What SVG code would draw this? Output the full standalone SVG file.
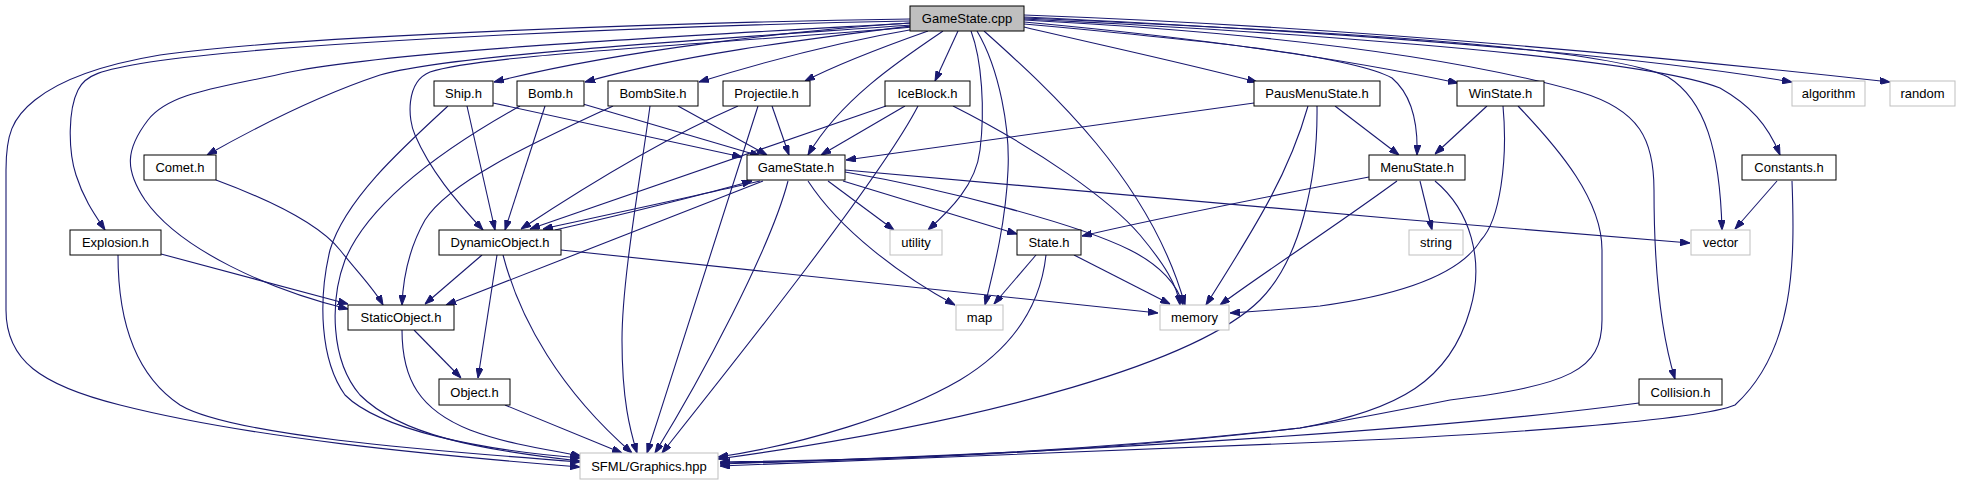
<svg xmlns="http://www.w3.org/2000/svg" width="1963" height="485" viewBox="0 0 1963 485">
<defs>
<marker id="a" viewBox="0 0 10 7" markerWidth="10" markerHeight="7" refX="10" refY="3.5" orient="auto" markerUnits="userSpaceOnUse"><path d="M0,0 L10,3.5 L0,7 z" fill="#191970" stroke="#191970" stroke-width="1"/></marker>
</defs>
<style>
.e{fill:none;stroke:#191970;stroke-width:1.1;marker-end:url(#a)}
.n rect{fill:#fff;stroke:#000;stroke-width:1}
.x rect{fill:#fff;stroke:#bfbfbf;stroke-width:1}
.r rect{fill:#bfbfbf;stroke:#000;stroke-width:1}
text{font-family:"Liberation Sans",Arial,sans-serif;font-size:13px;fill:#000;text-anchor:middle}
</style>
<rect width="1963" height="485" fill="#fff"/>
<g id="edges">
<path class="e" d="M910,19 C700,22 300,35 160,55 C100,65 60,80 35,100 C12,118 6,135 6,170 L6,310 C6,360 40,385 120,405 C250,438 430,455 580,467"/>
<path class="e" d="M910,21 C700,25 300,40 150,62 C100,70 85,75 78,90 C68,110 68,150 76,175 C84,200 95,215 105,230"/>
<path class="e" d="M912,23 C700,35 400,50 290,72 C220,88 170,92 148,120 C125,150 125,170 145,200 C180,250 270,290 348,309"/>
<path class="e" d="M912,25 C700,40 450,55 380,75 C320,95 260,125 207,155"/>
<path class="e" d="M913,27 C700,45 480,55 430,72 C405,82 408,120 415,135 C430,170 455,200 483,230"/>
<path class="e" d="M910,23 C800,30 620,50 494,82"/>
<path class="e" d="M911,26 C800,40 680,55 585,82"/>
<path class="e" d="M915,29 C850,40 770,60 699,82"/>
<path class="e" d="M928,31 C880,48 840,63 805,81"/>
<path class="e" d="M943,31 C900,60 840,100 808,155"/>
<path class="e" d="M958,31 L935,81"/>
<path class="e" d="M971,31 C982,60 985,110 980,150 C976,185 950,210 928,230"/>
<path class="e" d="M977,31 C1000,70 1010,130 1008,170 C1006,220 995,265 985,305"/>
<path class="e" d="M984,31 C1050,90 1150,180 1185,305"/>
<path class="e" d="M1024,27 C1100,45 1180,62 1257,82"/>
<path class="e" d="M1024,24 C1200,40 1350,55 1392,78 C1412,95 1418,125 1417,155"/>
<path class="e" d="M1024,22 C1200,38 1350,60 1458,83"/>
<path class="e" d="M1024,20 C1250,32 1450,55 1580,92 C1640,110 1654,140 1654,190 C1654,260 1660,330 1675,379"/>
<path class="e" d="M1024,18 C1300,30 1600,45 1668,77 C1705,100 1720,150 1722,230"/>
<path class="e" d="M1024,19 C1350,35 1650,60 1720,88 C1750,105 1768,125 1780,155"/>
<path class="e" d="M1024,17 C1300,30 1600,50 1792,82"/>
<path class="e" d="M1024,15 C1300,25 1600,50 1890,82"/>
<path class="e" d="M448,106 C400,150 345,200 330,250 C318,300 320,360 345,395 C380,430 480,450 580,458"/>
<path class="e" d="M467,106 L495,230"/>
<path class="e" d="M493,103 L742,157"/>
<path class="e" d="M520,106 C450,145 370,200 345,260 C330,300 330,360 360,395 C400,435 480,450 580,461"/>
<path class="e" d="M545,106 L505,230"/>
<path class="e" d="M583,104 L760,156"/>
<path class="e" d="M613,106 C540,140 450,180 425,220 C408,250 403,280 402,305"/>
<path class="e" d="M650,106 C640,180 622,280 622,340 C622,400 630,430 637,453"/>
<path class="e" d="M678,106 L767,155"/>
<path class="e" d="M738,106 C660,140 580,190 521,229"/>
<path class="e" d="M758,106 C735,180 690,320 647,453"/>
<path class="e" d="M772,106 L789,155"/>
<path class="e" d="M886,106 L530,229"/>
<path class="e" d="M905,106 L821,155"/>
<path class="e" d="M918,106 C880,180 720,380 662,453"/>
<path class="e" d="M953,106 C1040,150 1110,200 1140,235 C1165,265 1177,285 1180,305"/>
<path class="e" d="M760,181 C700,195 620,212 543,229"/>
<path class="e" d="M555,230 C620,215 690,198 752,181"/>
<path class="e" d="M763,181 L446,305"/>
<path class="e" d="M788,181 C770,250 700,380 655,453"/>
<path class="e" d="M828,181 L894,230"/>
<path class="e" d="M843,181 L1017,234"/>
<path class="e" d="M808,181 C840,230 900,275 955,305"/>
<path class="e" d="M845,172 C950,190 1080,225 1130,250 C1160,265 1178,285 1183,305"/>
<path class="e" d="M845,170 C1000,185 1400,220 1690,243"/>
<path class="e" d="M482,255 L425,304"/>
<path class="e" d="M497,255 L478,378"/>
<path class="e" d="M503,255 C520,320 560,390 632,453"/>
<path class="e" d="M561,250 L1158,313"/>
<path class="e" d="M414,330 L461,378"/>
<path class="e" d="M402,330 C402,380 420,410 470,430 C510,445 550,450 581,456"/>
<path class="e" d="M505,405 L622,453"/>
<path class="e" d="M161,254 L348,304"/>
<path class="e" d="M118,255 C118,320 135,375 180,405 C230,435 420,450 580,462"/>
<path class="e" d="M216,180 C270,200 320,225 340,250 C360,275 375,290 383,305"/>
<path class="e" d="M1036,255 L994,304"/>
<path class="e" d="M1074,255 L1170,304"/>
<path class="e" d="M1046,255 C1040,310 1010,350 960,380 C900,415 800,445 718,457"/>
<path class="e" d="M1369,177 C1250,200 1150,220 1082,236"/>
<path class="e" d="M1420,181 L1432,230"/>
<path class="e" d="M1397,181 C1330,230 1260,275 1220,305"/>
<path class="e" d="M1435,181 C1470,210 1485,260 1470,310 C1450,380 1400,410 1300,428 C1100,452 900,460 720,463"/>
<path class="e" d="M1254,103 L846,160"/>
<path class="e" d="M1335,106 L1399,155"/>
<path class="e" d="M1308,106 C1290,170 1260,220 1206,305"/>
<path class="e" d="M1317,106 C1318,180 1300,260 1260,300 C1200,360 1000,420 718,459"/>
<path class="e" d="M1487,106 L1435,154"/>
<path class="e" d="M1503,106 C1508,160 1500,220 1481,240 C1460,275 1400,295 1320,306 C1290,309 1260,311 1230,313"/>
<path class="e" d="M1518,106 C1560,150 1602,200 1602,250 L1602,320 C1602,370 1570,385 1450,400 C1400,410 1350,420 1300,428 C1100,450 900,460 720,462"/>
<path class="e" d="M1777,181 L1735,229"/>
<path class="e" d="M1792,181 C1795,260 1795,350 1735,405 C1700,420 1500,435 1300,443 C1100,452 900,460 720,466"/>
<path class="e" d="M1639,403 C1400,435 1000,455 720,464"/>
</g>
<g id="n-gamestate-cpp" class="r"><rect x="910" y="6" width="114" height="25"/><text x="967" y="23">GameState.cpp</text></g>
<g id="n-ship" class="n"><rect x="434" y="81" width="59" height="25"/><text x="463.5" y="98">Ship.h</text></g>
<g id="n-bomb" class="n"><rect x="517" y="81" width="67" height="25"/><text x="550.5" y="98">Bomb.h</text></g>
<g id="n-bombsite" class="n"><rect x="608" y="81" width="90" height="25"/><text x="653" y="98">BombSite.h</text></g>
<g id="n-projectile" class="n"><rect x="723" y="81" width="87" height="25"/><text x="766.5" y="98">Projectile.h</text></g>
<g id="n-iceblock" class="n"><rect x="885" y="81" width="85" height="25"/><text x="927.5" y="98">IceBlock.h</text></g>
<g id="n-pausmenustate" class="n"><rect x="1254" y="81" width="126" height="25"/><text x="1317" y="98">PausMenuState.h</text></g>
<g id="n-winstate" class="n"><rect x="1457" y="81" width="87" height="25"/><text x="1500.5" y="98">WinState.h</text></g>
<g id="n-algorithm" class="x"><rect x="1792" y="81" width="73" height="25"/><text x="1828.5" y="98">algorithm</text></g>
<g id="n-random" class="x"><rect x="1890" y="81" width="65" height="25"/><text x="1922.5" y="98">random</text></g>
<g id="n-comet" class="n"><rect x="144" y="155" width="72" height="25"/><text x="180" y="172">Comet.h</text></g>
<g id="n-gamestate-h" class="n"><rect x="747" y="155" width="98" height="25"/><text x="796" y="172">GameState.h</text></g>
<g id="n-menustate" class="n"><rect x="1369" y="155" width="96" height="25"/><text x="1417" y="172">MenuState.h</text></g>
<g id="n-constants" class="n"><rect x="1742" y="155" width="94" height="25"/><text x="1789" y="172">Constants.h</text></g>
<g id="n-explosion" class="n"><rect x="70" y="230" width="91" height="25"/><text x="115.5" y="247">Explosion.h</text></g>
<g id="n-dynamicobject" class="n"><rect x="439" y="230" width="122" height="25"/><text x="500" y="247">DynamicObject.h</text></g>
<g id="n-utility" class="x"><rect x="890" y="230" width="52" height="25"/><text x="916" y="247">utility</text></g>
<g id="n-state" class="n"><rect x="1017" y="230" width="64" height="25"/><text x="1049" y="247">State.h</text></g>
<g id="n-string" class="x"><rect x="1409" y="230" width="54" height="25"/><text x="1436" y="247">string</text></g>
<g id="n-vector" class="x"><rect x="1691" y="230" width="59" height="25"/><text x="1720.5" y="247">vector</text></g>
<g id="n-staticobject" class="n"><rect x="348" y="305" width="106" height="25"/><text x="401" y="322">StaticObject.h</text></g>
<g id="n-map" class="x"><rect x="956" y="305" width="47" height="25"/><text x="979.5" y="322">map</text></g>
<g id="n-memory" class="x"><rect x="1160" y="305" width="69" height="25"/><text x="1194.5" y="322">memory</text></g>
<g id="n-object" class="n"><rect x="439" y="379" width="71" height="26"/><text x="474.5" y="397">Object.h</text></g>
<g id="n-collision" class="n"><rect x="1639" y="379" width="83" height="26"/><text x="1680.5" y="397">Collision.h</text></g>
<g id="n-sfml" class="x"><rect x="580" y="453" width="138" height="26"/><text x="649" y="471">SFML/Graphics.hpp</text></g>
</svg>
